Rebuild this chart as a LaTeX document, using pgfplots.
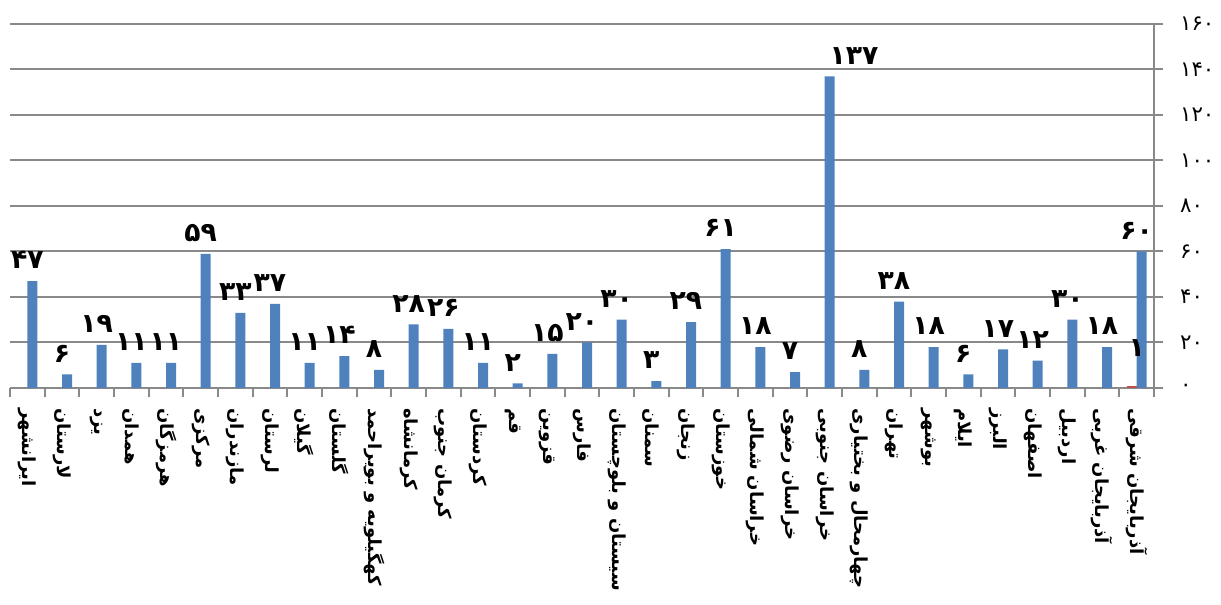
\documentclass[border=0pt]{standalone}
\usepackage{pgfplots}
\usepackage{pgfplotstable}
\pgfplotsset{compat=1.18}
\usepackage{fontspec}
\setmainfont{DejaVu Sans}
\newfontfamily\arabicfont[Script=Arabic]{DejaVu Sans}
\TeXXeTstate=1

\definecolor{barblue}{HTML}{4F81BD}
\definecolor{barred}{HTML}{C0504D}
\definecolor{gridgray}{HTML}{898989}

% provinces, left to right as drawn
\pgfplotstableread{
x y lab
0 47 ۴۷
1 6 ۶
2 19 ۱۹
3 11 ۱۱
4 11 ۱۱
5 59 ۵۹
6 33 ۳۳
7 37 ۳۷
8 11 ۱۱
9 14 ۱۴
10 8 ۸
11 28 ۲۸
12 26 ۲۶
13 11 ۱۱
14 2 ۲
15 15 ۱۵
16 20 ۲۰
17 30 ۳۰
18 3 ۳
19 29 ۲۹
20 61 ۶۱
21 18 ۱۸
22 7 ۷
23 137 ۱۳۷
24 8 ۸
25 38 ۳۸
26 18 ۱۸
27 6 ۶
28 17 ۱۷
29 12 ۱۲
30 30 ۳۰
31 18 ۱۸
32 60 ۶۰
}\bluedata

\pgfplotstableread{
x y lab
32 1 ۱
}\reddata

\begin{document}
\begin{tikzpicture}
\useasboundingbox (0,0) rectangle (915.75pt,453.75pt);
\begin{axis}[
    at={(7.5pt,162.75pt)}, anchor=south west,
    scale only axis, width=858pt, height=273pt,
    xmin=-0.5, xmax=32.5, ymin=0, ymax=160,
    axis x line*=bottom, axis y line*=right,
    axis line style={gridgray, line width=1.5pt},
    tick style={gridgray, line width=1.5pt},
    tick align=outside, major tick length=7pt,
    ymajorgrids, grid style={gridgray, line width=1.5pt},
    xtick={-0.5,0.5,...,32.5},
    x tick label as interval,
    xticklabels={
        \beginR ایرانشهر\endR, \beginR لارستان\endR, \beginR یزد\endR,
        \beginR همدان\endR, \beginR هرمزگان\endR, \beginR مرکزی\endR,
        \beginR مازندران\endR, \beginR لرستان\endR, \beginR گیلان\endR,
        \beginR گلستان\endR, \beginR کهگیلویه و بویراحمد\endR,
        \beginR کرمانشاه\endR, \beginR کرمان جنوب\endR,
        \beginR کردستان\endR, \beginR قم\endR, \beginR قزوین\endR,
        \beginR فارس\endR, \beginR سیستان و بلوچستان\endR,
        \beginR سمنان\endR, \beginR زنجان\endR, \beginR خوزستان\endR,
        \beginR خراسان شمالی\endR, \beginR خراسان رضوی\endR,
        \beginR خراسان جنوبی\endR, \beginR چهارمحال و بختیاری\endR,
        \beginR تهران\endR, \beginR بوشهر\endR, \beginR ایلام\endR,
        \beginR البرز\endR, \beginR اصفهان\endR, \beginR اردبیل\endR,
        \beginR آذربایجان غربی\endR, \beginR آذربایجان شرقی\endR},
    xticklabel shift=7pt,
    x tick label style={font=\arabicfont\bfseries\fontsize{13.5}{13.5}\selectfont,
        rotate=-90, anchor=west, inner sep=1pt},
    ytick={0,20,...,160},
    yticklabels={۰,۲۰,۴۰,۶۰,۸۰,۱۰۰,۱۲۰,۱۴۰,۱۶۰},
    y tick label style={font=\arabicfont\fontsize{16}{16}\selectfont,
        anchor=west, xshift=9pt},
    nodes near coords,
    point meta=explicit symbolic,
    every node near coord/.append style={
        font=\arabicfont\bfseries\fontsize{20}{20}\selectfont,
        anchor=south, inner sep=2pt, yshift=7pt},
]
\addplot[ybar, bar width=7.5pt, bar shift=3.75pt, fill=barblue, draw=none,
    visualization depends on={rawx \as \xval},
    every node near coord/.append style={xshift={22*(\xval==23)}}]
    table[x=x, y=y, meta=lab] {\bluedata};
\addplot[ybar, bar width=7.5pt, bar shift=-3.75pt, fill=barred, draw=none,
    every node near coord/.append style={yshift=13pt}]
    table[x=x, y=y, meta=lab] {\reddata};
\end{axis}
\end{tikzpicture}
\end{document}
